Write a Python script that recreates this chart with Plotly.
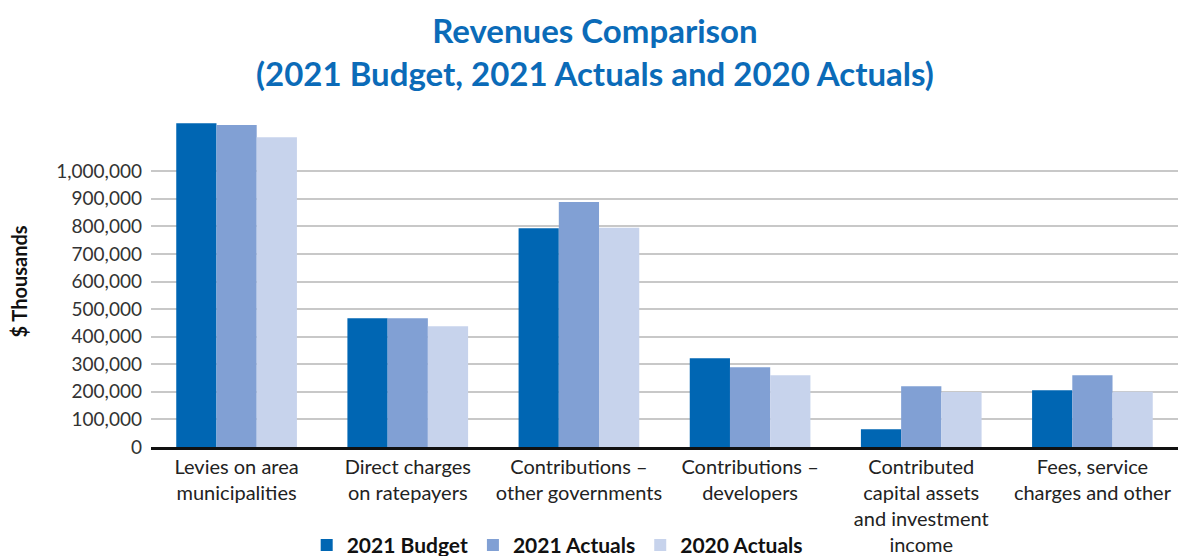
import plotly.graph_objects as go

categories = [
    "Levies on area<br>municipalities",
    "Direct charges<br>on ratepayers",
    "Contributions –<br>other governments",
    "Contributions –<br>developers",
    "Contributed<br>capital assets<br>and investment<br>income",
    "Fees, service<br>charges and other",
]
budget_2021 = [1174000, 467000, 793000, 322000, 64000, 206000]
actuals_2021 = [1167000, 467000, 888000, 289000, 220000, 260000]
actuals_2020 = [1123000, 438000, 795000, 260000, 199000, 200000]

y_ticks = list(range(0, 1000001, 100000))
y_tick_text = ["0"] + [f"{v:,}" for v in y_ticks[1:]]

series = [
    ("2021 Budget", budget_2021, "#0066b3"),
    ("2021 Actuals", actuals_2021, "#81a0d4"),
    ("2020 Actuals", actuals_2020, "#c7d3ec"),
]

fig = go.Figure()
for name, values, color in series:
    fig.add_trace(go.Bar(x=categories, y=values, name=name,
                         marker=dict(color=color, line=dict(width=0))))

fig.update_layout(
    width=1178, height=556,
    margin=dict(l=151, r=0, t=116, b=109, autoexpand=False),
    paper_bgcolor="white", plot_bgcolor="white",
    barmode="group", bargap=0.295, bargroupgap=0,
    font=dict(family="Lato, sans-serif", color="#333333"),
    legend=dict(
        orientation="h", xref="container", yref="paper",
        x=0.473, xanchor="center", y=-0.297, yanchor="middle",
        font=dict(size=21, color="#111111", family="Lato, sans-serif", weight="bold"),
        traceorder="normal",
    ),
    showlegend=True,
    annotations=[
        dict(
            text="Revenues Comparison<br>(2021 Budget, 2021 Actuals and 2020 Actuals)",
            xref="paper", yref="paper", x=0.432, y=1.195,
            xanchor="center", yanchor="middle", showarrow=False,
            font=dict(size=33, color="#0b6bb8", family="Lato, sans-serif", weight="bold"),
        ),
        dict(
            text="$ Thousands", textangle=-90,
            xref="paper", yref="paper", x=-0.1295, y=0.5,
            xanchor="center", yanchor="middle", showarrow=False,
            font=dict(size=20, color="#111111", family="Lato, sans-serif", weight="bold"),
        ),
    ],
)
fig.update_yaxes(
    range=[0, 1200000], tickvals=y_ticks, ticktext=y_tick_text,
    showgrid=True, gridcolor="#c8c8c8", gridwidth=1.5,
    zeroline=False, showline=False, ticks="", ticklabelstandoff=8,
    tickfont=dict(size=19, color="#333333"), automargin=False,
)
fig.update_xaxes(
    showline=True, linecolor="#111111", linewidth=2.5,
    ticks="", tickfont=dict(size=20, color="#222222"),
    showgrid=False, automargin=False,
)

fig.write_html("out.html")
